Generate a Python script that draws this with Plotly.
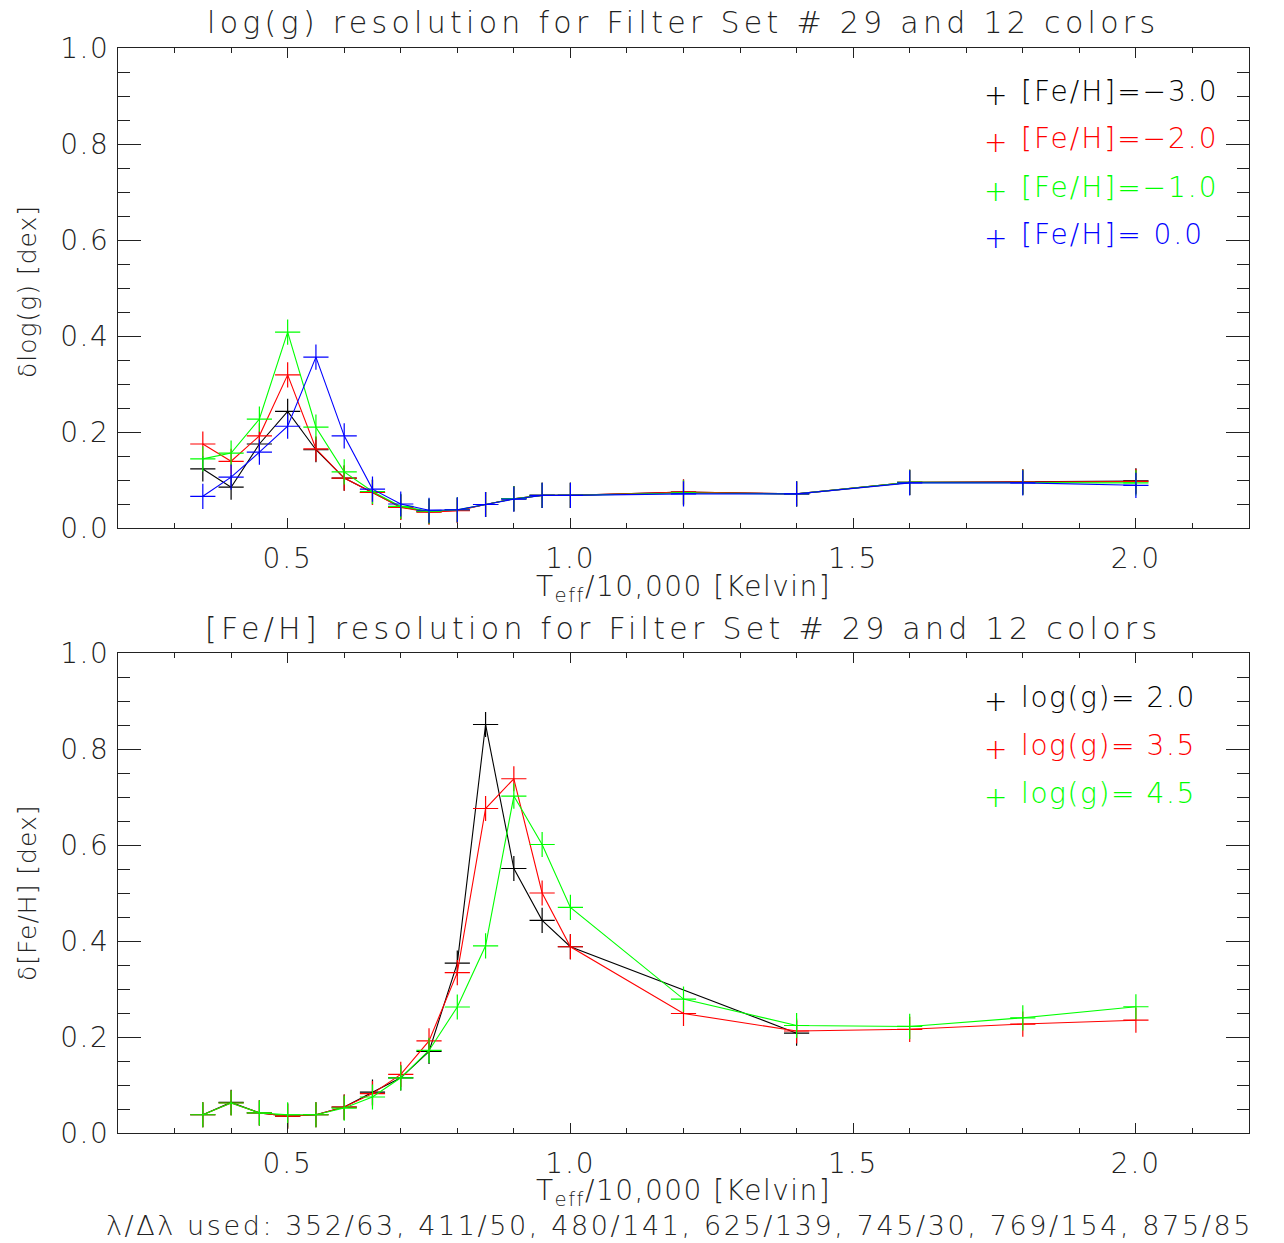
import plotly.graph_objects as go

# ---------------- data ----------------
teff = [0.35, 0.40, 0.45, 0.50, 0.55, 0.60, 0.65, 0.70, 0.75, 0.80,
        0.85, 0.90, 0.95, 1.00, 1.20, 1.40, 1.60, 1.80, 2.00]

# top panel: delta log(g) for each [Fe/H]
logg_feh_m30 = [0.123, 0.085, 0.175, 0.243, 0.163, 0.104, 0.074, 0.044, 0.034, 0.037,
                0.049, 0.061, 0.068, 0.068, 0.075, 0.071, 0.095, 0.096, 0.098]
logg_feh_m20 = [0.175, 0.139, 0.192, 0.319, 0.165, 0.104, 0.074, 0.043, 0.033, 0.036,
                0.049, 0.061, 0.068, 0.068, 0.075, 0.071, 0.095, 0.096, 0.097]
logg_feh_m10 = [0.144, 0.156, 0.227, 0.408, 0.210, 0.117, 0.076, 0.045, 0.035, 0.038,
                0.049, 0.061, 0.068, 0.068, 0.073, 0.071, 0.095, 0.095, 0.094]
logg_feh_p00 = [0.066, 0.106, 0.158, 0.212, 0.356, 0.192, 0.081, 0.050, 0.037, 0.038,
                0.049, 0.060, 0.068, 0.068, 0.071, 0.071, 0.094, 0.094, 0.089]

# bottom panel: delta [Fe/H] for each log(g)
teff_g20 = [0.35, 0.40, 0.45, 0.50, 0.55, 0.60, 0.65, 0.70, 0.75, 0.80,
            0.85, 0.90, 0.95, 1.00, 1.40]
feh_g20 = [0.038, 0.064, 0.042, 0.035, 0.038, 0.054, 0.085, 0.115, 0.170, 0.354,
           0.851, 0.551, 0.443, 0.388, 0.208]
feh_g35 = [0.038, 0.0625, 0.042, 0.035, 0.038, 0.054, 0.082, 0.122, 0.192, 0.334,
           0.676, 0.738, 0.500, 0.388, 0.249, 0.2125, 0.216, 0.227, 0.235]
feh_g45 = [0.038, 0.0625, 0.042, 0.038, 0.038, 0.052, 0.075, 0.115, 0.172, 0.2625,
           0.390, 0.702, 0.601, 0.470, 0.279, 0.224, 0.222, 0.240, 0.263]

x_tickvals = [0.5, 1.0, 1.5, 2.0]
x_ticktext = ["0.5", "1.0", "1.5", "2.0"]
y_tickvals = [0, 0.2, 0.4, 0.6, 0.8, 1.0]
y_ticktext = ["0.0", "0.2", "0.4", "0.6", "0.8", "1.0"]

top_labels = ["[Fe/H]=−3.0", "[Fe/H]=−2.0", "[Fe/H]=−1.0", "[Fe/H]= 0.0"]
bot_labels = ["log(g)= 2.0", "log(g)= 3.5", "log(g)= 4.5"]
colors = ["#000000", "#ff0000", "#00ff00", "#0000ff"]

title_top = "log(g) resolution for Filter Set # 29 and 12 colors"
title_bot = "[Fe/H] resolution for Filter Set # 29 and 12 colors"
xlabel = "T<sub>eff</sub>/10,000 [Kelvin]"
ylabel_top = "δlog(g) [dex]"
ylabel_bot = "δ[Fe/H] [dex]"
footer = "λ/Δλ used: 352/63, 411/50, 480/141, 625/139, 745/30, 769/154, 875/85"

# ---------------- layout helpers ----------------
W, H = 1284, 1243
FONT = "DejaVu Sans"
FS = 28
INK = "#222"


def px(x):
    return x / W


def py(y):
    return 1 - y / H


def spaced(s, ls):
    return '<span style="letter-spacing:%gpx">%s</span>' % (ls, s)


fig = go.Figure()

top_series = [logg_feh_m30, logg_feh_m20, logg_feh_m10, logg_feh_p00]
for vals, c, name in zip(top_series, colors, top_labels):
    fig.add_trace(go.Scatter(
        x=teff, y=vals, mode="lines+markers", name=name,
        line=dict(color=c, width=1.1),
        marker=dict(symbol="cross-thin", size=18, line=dict(color=c, width=1.2)),
        xaxis="x", yaxis="y", showlegend=False))

bot_series = [(teff_g20, feh_g20), (teff, feh_g35), (teff, feh_g45)]
for (xs, vals), c, name in zip(bot_series, colors, bot_labels):
    fig.add_trace(go.Scatter(
        x=xs, y=vals, mode="lines+markers", name=name,
        line=dict(color=c, width=1.1),
        marker=dict(symbol="cross-thin", size=18, line=dict(color=c, width=1.2)),
        xaxis="x2", yaxis="y2", showlegend=False))

axis_common = dict(
    showgrid=False, zeroline=False, showline=True, linecolor=INK,
    linewidth=1.2, mirror="ticks", ticks="inside", tickcolor=INK,
    tickwidth=1, automargin=False,
    tickfont=dict(family=FONT, size=FS, color=INK, weight=200),
)

xdom = [px(118), px(1249)]
xaxis_kw = dict(axis_common, range=[0.2, 2.2], tickvals=x_tickvals,
                ticktext=[spaced(t, 2) for t in x_ticktext], ticklen=10,
                minor=dict(dtick=0.1, tick0=0.2, ticks="inside", ticklen=5,
                           tickcolor=INK, tickwidth=1),
                ticklabelstandoff=5, domain=xdom)
yaxis_kw = dict(axis_common, range=[0, 1], tickvals=y_tickvals,
                ticktext=[spaced(t, 1.5) for t in y_ticktext], ticklen=23,
                minor=dict(dtick=0.05, tick0=0, ticks="inside", ticklen=12,
                           tickcolor=INK, tickwidth=1),
                ticklabelstandoff=2)

fig.update_layout(
    width=W, height=H, margin=dict(l=0, r=0, t=0, b=0, autoexpand=False),
    plot_bgcolor="white", paper_bgcolor="white",
    font=dict(family=FONT, size=FS, color=INK, weight=200),
    xaxis=dict(xaxis_kw, anchor="y"),
    yaxis=dict(yaxis_kw, domain=[py(528), py(48)], anchor="x"),
    xaxis2=dict(xaxis_kw, anchor="y2"),
    yaxis2=dict(yaxis_kw, domain=[py(1133), py(653)], anchor="x2"),
)

ann = []


def text(x, y, s, size=FS, color=INK, xanchor="center", angle=0, ls=0):
    ann.append(dict(x=px(x), y=py(y), xref="paper", yref="paper",
                    text=spaced(s, ls) if ls else s,
                    showarrow=False, xanchor=xanchor, yanchor="middle",
                    textangle=angle, borderpad=0,
                    font=dict(family=FONT, size=size, color=color, weight=200)))


text(683, 22, title_top, size=30, ls=4.3)
text(683, 628, title_bot, size=30, ls=4.3)
text(683, 588, xlabel, ls=1.5)
text(683, 1192, xlabel, ls=1.5)
text(27, 292, ylabel_top, size=25, angle=-90, ls=1)
text(27, 893, ylabel_bot, size=25, angle=-90, ls=1)
text(680, 1225, footer, size=27, ls=2.6)

for i, (lab, c) in enumerate(zip(top_labels, colors)):
    yy = 91 + 48 * i
    text(995, yy + 4, "+", color=c)
    text(1020, yy, lab, color=c, xanchor="left", ls=2)
for i, (lab, c) in enumerate(zip(bot_labels, colors)):
    yy = 697 + 48 * i
    text(995, yy + 4, "+", color=c)
    text(1020, yy, lab, color=c, xanchor="left", ls=1.6)

fig.update_layout(annotations=ann)
fig.write_html("out.html")
